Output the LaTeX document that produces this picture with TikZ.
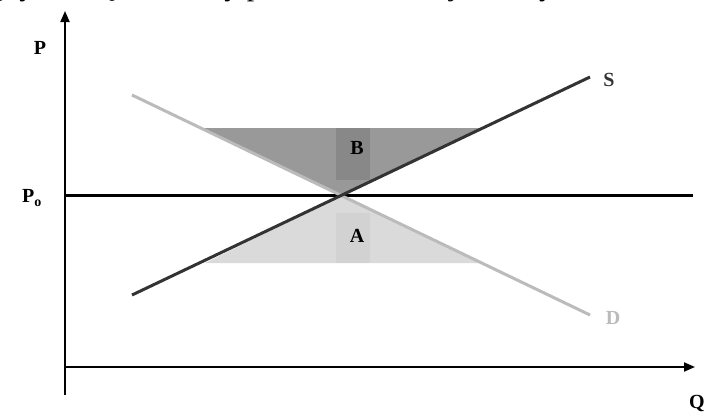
\documentclass[tikz,border=0pt]{standalone}
\usepackage{fontspec}
\setmainfont{Liberation Serif}
\usetikzlibrary{arrows.meta}
\definecolor{sline}{HTML}{333333}
\definecolor{dline}{HTML}{BBBBBB}
\definecolor{bfill}{HTML}{999999}
\definecolor{bcol}{HTML}{888888}
\definecolor{afill}{HTML}{DADADA}
\definecolor{acol}{HTML}{D2D2D2}
\tikzset{
  lbl/.style={font=\fontsize{20}{22}\selectfont\bfseries, inner sep=0pt},
  axis/.style={line width=2pt, -{Triangle[length=11pt,width=9pt]}},
  curve/.style={line width=3pt}
}
\begin{document}
\begin{tikzpicture}[x=1pt,y=-1pt]
\useasboundingbox (0,0) rectangle (708,415);
\begin{scope}
\clip (0,0) rectangle (708,415);
\node[anchor=base east, inner sep=0pt, font=\fontsize{30}{32}\selectfont] (top) at (701,-5) {ą rynkową można by przedstawić tak, jak na rysunku 1.2.1.};
\end{scope}
% shaded areas
\fill[bfill] (203,128) -- (483,128) -- (343,195) -- cycle;
\fill[bcol] (336,128) rectangle (370,180);
\fill[afill] (205,263) -- (482,263) -- (343,195) -- cycle;
\fill[acol] (336,213) rectangle (370,263);
% axes
\coordinate (o) at (65,367);
\coordinate (ytop) at (65,11);
\coordinate (ybot) at (65,395);
\coordinate (xend) at (695,367);
\draw[axis] (ybot) -- (ytop);
\draw[axis] (o) -- (xend);
% price line
\coordinate (p0) at (65,195);
\coordinate (p1) at (693,195);
\draw[line width=3pt] (p0) -- (p1);
% curves
\coordinate (s0) at (132,295);
\coordinate (s1) at (590,77);
\coordinate (d0) at (132,95);
\coordinate (d1) at (590,315);
\draw[curve, dline, line cap=butt] (d0) -- (d1);
\draw[curve, sline] (s0) -- (s1);
% labels
\node[lbl] (P) at (40,48) {P};
\node[lbl] (Po) at (32,198) {P\textsubscript{o}};
\node[lbl] (Q) at (697,403) {Q};
\node[lbl, text=sline] (S) at (609,80) {S};
\node[lbl, text=dline] (D) at (613,318) {D};
\node[lbl] (B) at (357,148) {B};
\node[lbl] (A) at (357,236) {A};
\end{tikzpicture}
\end{document}
